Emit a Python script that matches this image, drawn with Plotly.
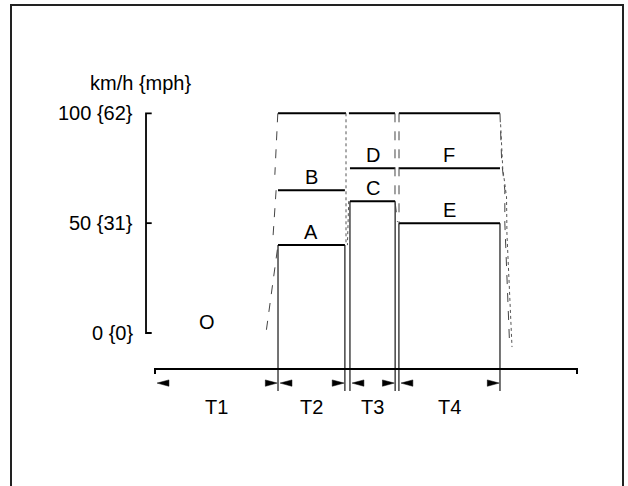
import plotly.graph_objects as go

# ---------------- data ----------------
phase_labels = ["T1", "T2", "T3", "T4"]
phase_start = [0.0, 29.15, 46.2, 57.8]
phase_end = [29.15, 45.0, 56.9, 81.75]
time_axis_end = 100.0

level_labels = ["A", "B", "C", "D", "E", "F"]
level_speed = [40, 65, 60, 75, 50, 75]
level_phase = [1, 1, 2, 2, 3, 3]          # index into the phases

max_speed = 100
top_seg_start = [29.15, 45.95, 57.8]
top_seg_end = [45.26, 56.87, 81.75]

speed_ticks = [0, 50, 100]
speed_tick_labels = ["0 {0}", "50 {31}", "100 {62}"]
speed_title = "km/h {mph}"

idle_label = "O"
idle_t, idle_v = 12.3, 5

# tolerance (dashed / dotted) boundaries
tol_left_t = [29.1, 28.6, 28.4, None, 28.7, 27.9, None, 29.0, 26.3]
tol_left_v = [100, 82, 72, None, 65, 42, None, 38, 0]
tol_right1_t = [81.75, 82.15, 82.9, 82.9, 84.0]
tol_right1_v = [100, 78, 65, 50, -4]
tol_right2_t = [81.9, 82.4, 83.3, 83.4, 84.6]
tol_right2_v = [95, 75, 62, 45, -6.4]
tol_mid1_t = [45.26, 45.26, None, 45.9, 45.6]
tol_mid1_v = [100, 40, None, 60, 40]
tol_mid2_t = [56.87, 56.87, 57.46]
tol_mid2_v = [100, 60, 50.5]
tol_mid3_t = [57.82, 57.82]
tol_mid3_v = [100, 50]

# ---------------- layout constants ----------------
W, H = 628, 486
X0, KX = 155.0, 4.22       # px of t=0, px per time unit
Y0, KY = 333.0, 2.197      # px of v=0, px per km/h
x_range = [-X0 / KX, (W - X0) / KX]
y_range = [(Y0 - H) / KY, Y0 / KY]

axis_v = -16.4             # time axis level
axis_tick_v = -18.7
vline_bottom = -26.4
arrow_v = -22.8
arrow_len, arrow_half = 2.8, 1.45
yaxis_t, ytick_t = -2.13, -0.78
label_t = -4.74
phase_label_v = -33.7

FONT = "Liberation Sans, Arial, Helvetica, sans-serif"
FS = 20
BLACK = "#000000"

fig = go.Figure()


def line(xs, ys, width=2, dash="solid", color=BLACK):
    fig.add_trace(go.Scatter(x=xs, y=ys, mode="lines", hoverinfo="skip",
                             line=dict(color=color, width=width, dash=dash),
                             showlegend=False, connectgaps=False))


# speed axis bracket
line([ytick_t, yaxis_t, yaxis_t, ytick_t], [max_speed, max_speed, 0, 0], width=1.8)
line([yaxis_t, ytick_t], [50, 50], width=1.8)

# time axis
line([0, 0, time_axis_end, time_axis_end], [axis_tick_v, axis_v, axis_v, axis_tick_v], width=2)

# top (maximum) line
for s, e in zip(top_seg_start, top_seg_end):
    line([s, e], [max_speed, max_speed], width=2)

# speed levels
for lab, sp, ph in zip(level_labels, level_speed, level_phase):
    line([phase_start[ph], phase_end[ph]], [sp, sp], width=2)

# vertical lines of each driving step (from bottom to the lower level)
lower = {}
for sp, ph in zip(level_speed, level_phase):
    lower[ph] = min(lower.get(ph, 999), sp)
for ph in range(1, 4):
    line([phase_start[ph], phase_start[ph]], [vline_bottom, lower[ph]], width=1.1)
    line([phase_end[ph], phase_end[ph]], [vline_bottom, lower[ph]], width=1.1)

# tolerance lines
line(tol_left_t, tol_left_v, width=1, dash="dash", color="#444")
line(tol_right1_t, tol_right1_v, width=1, dash="dash", color="#444")
line(tol_right2_t, tol_right2_v, width=1, dash="dot", color="#555")
line(tol_mid1_t, tol_mid1_v, width=1, dash="dot", color="#555")
line(tol_mid2_t, tol_mid2_v, width=1, dash="dash", color="#444")
line(tol_mid3_t, tol_mid3_v, width=1, dash="dash", color="#444")

# arrows for the time phases
gap = 0.5
for s, e in zip(phase_start, phase_end):
    tl = s + gap
    tr = e - gap * 0.4
    for tip, d in ((tl, 1), (tr, -1)):
        fig.add_trace(go.Scatter(
            x=[tip, tip + d * arrow_len, tip + d * arrow_len, tip],
            y=[arrow_v, arrow_v + arrow_half, arrow_v - arrow_half, arrow_v],
            mode="lines", fill="toself", fillcolor=BLACK,
            line=dict(color=BLACK, width=0.5), hoverinfo="skip", showlegend=False))

annotations = []


def text(t, v, s, xanchor="center", yanchor="middle", yshift=0):
    annotations.append(dict(x=t, y=v, text=s, showarrow=False, xanchor=xanchor,
                            yanchor=yanchor, yshift=yshift,
                            font=dict(family=FONT, size=FS, color=BLACK)))


for tv, tl in zip(speed_ticks, speed_tick_labels):
    text(label_t, tv, tl, xanchor="right")
text(-3.55, 113.9, speed_title)
for lab, sp, ph in zip(level_labels, level_speed, level_phase):
    text((phase_start[ph] + phase_end[ph]) / 2, sp, lab, yanchor="bottom", yshift=0)
for lab, s, e in zip(phase_labels, phase_start, phase_end):
    text((s + e) / 2, phase_label_v, lab)
text(idle_t, idle_v, idle_label)

fig.update_layout(
    width=W, height=H,
    margin=dict(l=0, r=0, t=0, b=0, pad=0),
    paper_bgcolor="white", plot_bgcolor="white",
    xaxis=dict(range=x_range, visible=False, fixedrange=True),
    yaxis=dict(range=y_range, visible=False, fixedrange=True),
    annotations=annotations,
    shapes=[dict(type="rect", xref="paper", yref="paper",
                 x0=11 / W, x1=623 / W, y0=-0.05, y1=1 - 5 / H,
                 line=dict(color="#222222", width=2))],
    showlegend=False,
)

fig.write_html("out.html", config={"displayModeBar": False},
               post_script="document.body.style.margin='0';document.body.style.overflow='hidden';")
